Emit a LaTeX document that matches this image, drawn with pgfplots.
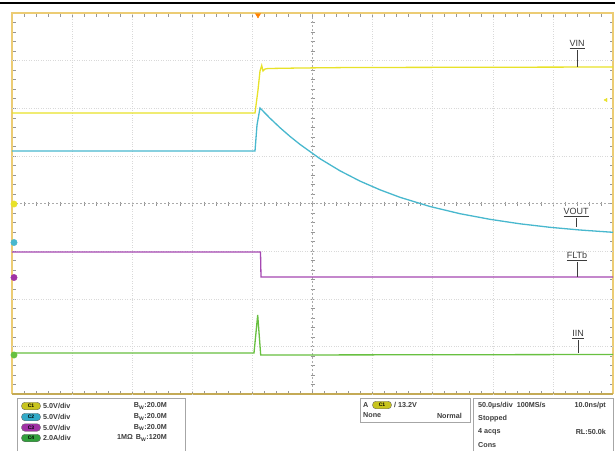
\documentclass[border=0pt]{standalone}
\usepackage{fontspec}
\setmainfont{Liberation Sans}
\usepackage{pgfplots}
\pgfplotsset{compat=1.18}
\definecolor{cyel}{RGB}{232,226,40}
\definecolor{ccyan}{RGB}{72,184,206}
\definecolor{cmag}{RGB}{165,72,178}
\definecolor{cgrn}{RGB}{104,192,64}
\definecolor{frm}{RGB}{236,204,116}
\definecolor{frmdk}{RGB}{196,170,86}
\definecolor{tickc}{RGB}{150,150,150}
\definecolor{pyel}{RGB}{200,196,30}
\definecolor{pcyan}{RGB}{50,170,200}
\definecolor{pmag}{RGB}{160,50,165}
\definecolor{pgrn}{RGB}{50,160,60}
\definecolor{txt}{RGB}{60,60,60}
\begin{document}
\begin{tikzpicture}[x=1pt,y=1pt]
\path[use as bounding box] (0,0) rectangle (615,-451);
\fill[white] (0,0) rectangle (615,-451);
\draw[black, line width=1.2pt] (0,-3) -- (615,-3);
% frame ticks and center lines
\foreach \i in {1,...,49} {
  \draw[tickc, line width=0.5pt] ({12+\i*12.02},-13) -- ++(0,-3.5);
  \draw[tickc, line width=0.5pt] ({12+\i*12.02},-394) -- ++(0,3.5);
  \draw[tickc, line width=0.5pt] ({12+\i*12.02},-201.5) -- ++(0,-4);
}
\foreach \j in {1,...,39} {
  \draw[tickc, line width=0.5pt] (12,{-13-\j*9.525}) -- ++(3.5,0);
  \draw[tickc, line width=0.5pt] (613,{-13-\j*9.525}) -- ++(-3.5,0);
  \draw[tickc, line width=0.5pt] (310.5,{-13-\j*9.525}) -- ++(4,0);
}
\draw[tickc!80, dash pattern=on 2pt off 2pt, line width=0.5pt] (312.5,-13) -- (312.5,-394);
\draw[tickc!80, dash pattern=on 2pt off 2pt, line width=0.5pt] (12,-203.5) -- (613,-203.5);
% frame
\draw[frm, line width=1.6pt] (12,-394) -- (12,-13) -- (613,-13) -- (613,-394);
\draw[frmdk, line width=1.8pt] (12,-394) -- (613,-394);
\begin{axis}[
  at={(12pt,-394pt)}, anchor=south west,
  x=1pt, y=1pt, xmin=12, xmax=613, ymin=-394, ymax=-13,
  axis line style={draw=none},
  xtick={72.1,132.2,192.3,252.4,372.6,432.7,492.8,552.9},
  ytick={-60.6,-108.3,-155.9,-251.1,-298.8,-346.4},
  xticklabels={}, yticklabels={}, major tick length=0pt,
  grid=major, major grid style={gray!30, dotted, line width=0.6pt},
  clip=false,
]
% VIN (yellow)
\addplot[cyel, line width=1.3pt] coordinates {(12,-113)(255,-113)(258,-90)(260,-71)(261.7,-65.5)(263,-71)(265,-69)(268,-68.5)(300,-68)(350,-67.5)(613,-67)};
% VOUT (cyan)
\addplot[ccyan, line width=1.3pt] coordinates {(12,-151)(255,-151)(257,-125)(260,-108)(270,-118.2)(280,-127.7)(290,-136.4)(300,-144.4)(320,-158.7)(340,-170.8)(360,-181.1)(380,-189.8)(400,-197.3)(430,-206.5)(460,-213.7)(490,-219.3)(520,-223.8)(550,-227.3)(580,-230)(613,-232.3)};
% FLTb (magenta)
\addplot[cmag, line width=1.3pt] coordinates {(12,-252)(260.5,-252)(261,-277)(613,-277)};
% IIN (green)
\addplot[cgrn, line width=1.3pt] coordinates {(12,-353)(254,-353)(257.7,-315)(260.7,-355)(613,-354.5)};
% channel markers
\addplot[only marks, mark=*, mark size=3.2pt, cyel] coordinates {(14,-204)};
\addplot[only marks, mark=*, mark size=3.2pt, ccyan] coordinates {(14,-242.5)};
\addplot[only marks, mark=*, mark size=3.2pt, pmag] coordinates {(14,-277.5)};
\addplot[only marks, mark=*, mark size=3.2pt, cgrn] coordinates {(14,-355)};
\addplot[only marks, mark=triangle*, mark size=3pt, mark options={rotate=180}, orange] coordinates {(258,-15)};
\addplot[only marks, mark=triangle*, mark size=2pt, mark options={rotate=90}, cyel] coordinates {(606,-100)};
% labels
\node[font=\fontsize{9}{10}\selectfont, text=txt, anchor=south, inner sep=1pt] at (axis cs:577,-50) {\underline{VIN}};
\draw[txt, line width=0.7pt] (axis cs:577,-50) -- (axis cs:577,-67);
\node[font=\fontsize{9}{10}\selectfont, text=txt, anchor=south, inner sep=1pt] at (axis cs:576,-218) {\underline{VOUT}};
\draw[txt, line width=0.7pt] (axis cs:576,-218) -- (axis cs:576,-227);
\node[font=\fontsize{9}{10}\selectfont, text=txt, anchor=south, inner sep=1pt] at (axis cs:577,-262) {\underline{FLTb}};
\draw[txt, line width=0.7pt] (axis cs:577,-262) -- (axis cs:577,-277);
\node[font=\fontsize{9}{10}\selectfont, text=txt, anchor=south, inner sep=1pt] at (axis cs:578,-340) {\underline{IIN}};
\draw[txt, line width=0.7pt] (axis cs:578,-340) -- (axis cs:578,-353);
\end{axis}
% info panel
\draw[gray!70, line width=0.8pt] (17,-451) -- (17,-398) -- (185,-398) -- (185,-451);
\draw[gray!70, line width=0.8pt] (360,-398) rectangle (470,-422);
\draw[gray!70, line width=0.8pt] (473,-451) -- (473,-398) -- (613,-398) -- (613,-451);
\tikzset{pill/.style={draw=black!60, rounded corners=3.5pt, minimum width=19pt, minimum height=7.5pt, inner sep=0pt, font=\fontsize{5}{5}\selectfont\bfseries}}
\tikzset{ptxt/.style={font=\fontsize{7.2}{8}\selectfont\bfseries, text=txt, inner sep=0pt}}
\node[pill, fill=pyel] at (31,-406) {C1};
\node[pill, fill=pcyan] at (31,-417) {C2};
\node[pill, fill=pmag] at (31,-427.5) {C3};
\node[pill, fill=pgrn] at (31,-438) {C4};
\node[ptxt, anchor=west] at (43,-406) {5.0V/div};
\node[ptxt, anchor=west] at (43,-417) {5.0V/div};
\node[ptxt, anchor=west] at (43,-427.5) {5.0V/div};
\node[ptxt, anchor=west] at (43,-438) {2.0A/div};
\node[ptxt, anchor=east] at (167,-406) {B\textsubscript{W}:20.0M};
\node[ptxt, anchor=east] at (167,-417) {B\textsubscript{W}:20.0M};
\node[ptxt, anchor=east] at (167,-427.5) {B\textsubscript{W}:20.0M};
\node[ptxt, anchor=east] at (167,-438) {1MΩ\hspace{3pt}B\textsubscript{W}:120M};
\node[ptxt, anchor=west] at (363,-405) {A};
\node[pill, fill=pyel] at (382,-405) {C1};
\node[ptxt, anchor=west] at (394,-405) {/\hspace{2pt}13.2V};
\node[ptxt, anchor=west] at (363,-415.5) {None};
\node[ptxt, anchor=east] at (462,-415.5) {Normal};
\node[ptxt, anchor=west] at (478,-406) {50.0µs/div\hspace{4pt}100MS/s};
\node[ptxt, anchor=east] at (606,-406) {10.0ns/pt};
\node[ptxt, anchor=west] at (478,-419) {Stopped};
\node[ptxt, anchor=west] at (478,-432) {4 acqs};
\node[ptxt, anchor=east] at (606,-432) {RL:50.0k};
\node[ptxt, anchor=west] at (478,-445) {Cons};
\end{tikzpicture}
\end{document}
